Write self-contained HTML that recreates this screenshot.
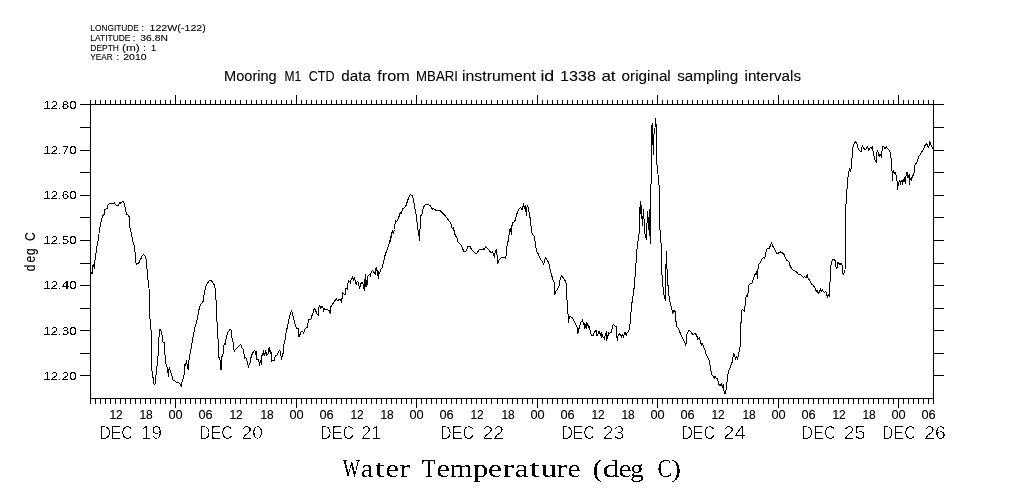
<!DOCTYPE html>
<html><head><meta charset="utf-8">
<style>
html,body{margin:0;padding:0;background:#fff;}
body{width:1009px;height:504px;overflow:hidden;}
svg{display:block;}
text{fill:#000;}
.s{font-family:"Liberation Sans",sans-serif;}
.r{font-family:"Liberation Serif",serif;}
.yt{font-size:15px;}

</style></head>
<body>
<svg width="1009" height="504" viewBox="0 0 1009 504">
<defs><filter id="f9_3" x="0" y="0" width="1009" height="504" filterUnits="userSpaceOnUse"><feComponentTransfer><feFuncA type="gamma" amplitude="1" exponent="0.8" offset="0"/></feComponentTransfer></filter><filter id="f13_8" x="0" y="0" width="1009" height="504" filterUnits="userSpaceOnUse"><feComponentTransfer><feFuncA type="gamma" amplitude="1" exponent="0.85" offset="0"/></feComponentTransfer></filter><filter id="f11_5" x="0" y="0" width="1009" height="504" filterUnits="userSpaceOnUse"><feComponentTransfer><feFuncA type="discrete" tableValues="0 1"/></feComponentTransfer></filter><filter id="f12_4" x="0" y="0" width="1009" height="504" filterUnits="userSpaceOnUse"><feComponentTransfer><feFuncA type="gamma" amplitude="1" exponent="0.75" offset="0"/></feComponentTransfer></filter><filter id="f17_5" x="0" y="0" width="1009" height="504" filterUnits="userSpaceOnUse"><feComponentTransfer><feFuncA type="discrete" tableValues="0 0 0 1"/></feComponentTransfer></filter><filter id="f25_5" x="0" y="0" width="1009" height="504" filterUnits="userSpaceOnUse"><feComponentTransfer><feFuncA type="discrete" tableValues="0 1"/></feComponentTransfer></filter><filter id="fyt" x="0" y="0" width="1009" height="504" filterUnits="userSpaceOnUse"><feComponentTransfer><feFuncA type="gamma" amplitude="1" exponent="0.75" offset="0"/></feComponentTransfer></filter></defs>
<rect width="1009" height="504" fill="#fff"/>
<g stroke="#000" stroke-width="1" fill="none" shape-rendering="crispEdges">
<path d="M80 104.5H944M90 398.5H934M90.5 104V399M933.5 104V399M80 127.5H90M934 127.5H944M80 150.5H90M934 150.5H944M80 172.5H90M934 172.5H944M80 195.5H90M934 195.5H944M80 217.5H90M934 217.5H944M80 240.5H90M934 240.5H944M80 263.5H90M934 263.5H944M80 285.5H90M934 285.5H944M80 308.5H90M934 308.5H944M80 330.5H90M934 330.5H944M80 353.5H90M934 353.5H944M80 375.5H90M934 375.5H944M90.5 399V404M90.5 100V104M95.5 399V404M95.5 100V104M100.5 399V404M100.5 100V104M105.5 399V404M105.5 100V104M110.5 399V404M110.5 100V104M115.5 399V404M115.5 100V104M120.5 399V404M120.5 100V104M125.5 399V404M125.5 100V104M130.5 399V404M130.5 100V104M135.5 399V404M135.5 100V104M140.5 399V404M140.5 100V104M145.5 399V404M145.5 100V104M150.5 399V404M150.5 100V104M155.5 399V404M155.5 100V104M160.5 399V404M160.5 100V104M165.5 399V404M165.5 100V104M170.5 399V404M170.5 100V104M175.5 399V408M175.5 95V104M180.5 399V404M180.5 100V104M185.5 399V404M185.5 100V104M190.5 399V404M190.5 100V104M195.5 399V404M195.5 100V104M200.5 399V404M200.5 100V104M205.5 399V404M205.5 100V104M210.5 399V404M210.5 100V104M215.5 399V404M215.5 100V104M220.5 399V404M220.5 100V104M225.5 399V404M225.5 100V104M230.5 399V404M230.5 100V104M235.5 399V404M235.5 100V104M240.5 399V404M240.5 100V104M246.5 399V404M246.5 100V104M251.5 399V404M251.5 100V104M256.5 399V404M256.5 100V104M261.5 399V404M261.5 100V104M266.5 399V404M266.5 100V104M271.5 399V404M271.5 100V104M276.5 399V404M276.5 100V104M281.5 399V404M281.5 100V104M286.5 399V404M286.5 100V104M291.5 399V404M291.5 100V104M296.5 399V408M296.5 95V104M301.5 399V404M301.5 100V104M306.5 399V404M306.5 100V104M311.5 399V404M311.5 100V104M316.5 399V404M316.5 100V104M321.5 399V404M321.5 100V104M326.5 399V404M326.5 100V104M331.5 399V404M331.5 100V104M336.5 399V404M336.5 100V104M341.5 399V404M341.5 100V104M346.5 399V404M346.5 100V104M351.5 399V404M351.5 100V104M356.5 399V404M356.5 100V104M361.5 399V404M361.5 100V104M366.5 399V404M366.5 100V104M371.5 399V404M371.5 100V104M376.5 399V404M376.5 100V104M381.5 399V404M381.5 100V104M386.5 399V404M386.5 100V104M391.5 399V404M391.5 100V104M396.5 399V404M396.5 100V104M401.5 399V404M401.5 100V104M406.5 399V404M406.5 100V104M411.5 399V404M411.5 100V104M416.5 399V408M416.5 95V104M421.5 399V404M421.5 100V104M426.5 399V404M426.5 100V104M431.5 399V404M431.5 100V104M436.5 399V404M436.5 100V104M441.5 399V404M441.5 100V104M446.5 399V404M446.5 100V104M451.5 399V404M451.5 100V104M456.5 399V404M456.5 100V104M461.5 399V404M461.5 100V104M466.5 399V404M466.5 100V104M471.5 399V404M471.5 100V104M476.5 399V404M476.5 100V104M481.5 399V404M481.5 100V104M486.5 399V404M486.5 100V104M491.5 399V404M491.5 100V104M497.5 399V404M497.5 100V104M502.5 399V404M502.5 100V104M507.5 399V404M507.5 100V104M512.5 399V404M512.5 100V104M517.5 399V404M517.5 100V104M522.5 399V404M522.5 100V104M527.5 399V404M527.5 100V104M532.5 399V404M532.5 100V104M537.5 399V408M537.5 95V104M542.5 399V404M542.5 100V104M547.5 399V404M547.5 100V104M552.5 399V404M552.5 100V104M557.5 399V404M557.5 100V104M562.5 399V404M562.5 100V104M567.5 399V404M567.5 100V104M572.5 399V404M572.5 100V104M577.5 399V404M577.5 100V104M582.5 399V404M582.5 100V104M587.5 399V404M587.5 100V104M592.5 399V404M592.5 100V104M597.5 399V404M597.5 100V104M602.5 399V404M602.5 100V104M607.5 399V404M607.5 100V104M612.5 399V404M612.5 100V104M617.5 399V404M617.5 100V104M622.5 399V404M622.5 100V104M627.5 399V404M627.5 100V104M632.5 399V404M632.5 100V104M637.5 399V404M637.5 100V104M642.5 399V404M642.5 100V104M647.5 399V404M647.5 100V104M652.5 399V404M652.5 100V104M657.5 399V408M657.5 95V104M662.5 399V404M662.5 100V104M667.5 399V404M667.5 100V104M672.5 399V404M672.5 100V104M677.5 399V404M677.5 100V104M682.5 399V404M682.5 100V104M687.5 399V404M687.5 100V104M692.5 399V404M692.5 100V104M697.5 399V404M697.5 100V104M702.5 399V404M702.5 100V104M707.5 399V404M707.5 100V104M712.5 399V404M712.5 100V104M717.5 399V404M717.5 100V104M722.5 399V404M722.5 100V104M727.5 399V404M727.5 100V104M732.5 399V404M732.5 100V104M737.5 399V404M737.5 100V104M742.5 399V404M742.5 100V104M748.5 399V404M748.5 100V104M753.5 399V404M753.5 100V104M758.5 399V404M758.5 100V104M763.5 399V404M763.5 100V104M768.5 399V404M768.5 100V104M773.5 399V404M773.5 100V104M778.5 399V408M778.5 95V104M783.5 399V404M783.5 100V104M788.5 399V404M788.5 100V104M793.5 399V404M793.5 100V104M798.5 399V404M798.5 100V104M803.5 399V404M803.5 100V104M808.5 399V404M808.5 100V104M813.5 399V404M813.5 100V104M818.5 399V404M818.5 100V104M823.5 399V404M823.5 100V104M828.5 399V404M828.5 100V104M833.5 399V404M833.5 100V104M838.5 399V404M838.5 100V104M843.5 399V404M843.5 100V104M848.5 399V404M848.5 100V104M853.5 399V404M853.5 100V104M858.5 399V404M858.5 100V104M863.5 399V404M863.5 100V104M868.5 399V404M868.5 100V104M873.5 399V404M873.5 100V104M878.5 399V404M878.5 100V104M883.5 399V404M883.5 100V104M888.5 399V404M888.5 100V104M893.5 399V404M893.5 100V104M898.5 399V408M898.5 95V104M903.5 399V404M903.5 100V104M908.5 399V404M908.5 100V104M913.5 399V404M913.5 100V104M918.5 399V404M918.5 100V104M923.5 399V404M923.5 100V104M928.5 399V404M928.5 100V104M933.5 399V404M933.5 100V104"/>
<polyline stroke-linejoin="round" points="90.6,272.5 92.2,273.4 92.6,265.8 93.6,265.0 94.4,268.4 94.7,262.5 96.1,252.3 97.3,243.9 98.5,239.7 99.5,227.9 100.5,226.0 100.5,223.4 101.4,220.4 102.3,216.5 103.1,215.3 104.3,214.5 104.3,210.3 105.5,209.1 107.3,208.2 107.3,206.4 108.5,204.3 110.3,203.4 114.2,203.1 114.5,202.3 115.0,203.7 116.5,205.5 118.6,205.5 119.5,202.5 119.8,203.7 121.0,202.5 122.5,201.4 123.4,201.7 124.0,203.1 124.6,203.7 124.9,206.7 125.5,207.3 125.5,211.5 126.4,212.7 126.4,215.0 127.0,213.9 128.4,215.3 129.3,217.1 129.6,226.0 131.5,233.8 132.7,240.5 134.4,246.4 135.1,252.8 135.7,262.5 136.8,264.3 138.2,263.2 139.6,261.8 140.3,258.3 140.9,259.7 141.6,256.9 143.4,254.2 145.1,256.3 146.2,259.7 147.2,270.8 147.9,279.2 149.0,288.2 149.6,315.0 150.6,324.5 151.3,334.0 151.7,369.0 152.9,376.9 154.2,384.8 155.3,383.3 156.1,373.7 157.4,362.6 158.5,350.7 159.3,329.3 160.9,330.1 162.1,335.6 162.8,342.0 164.4,342.8 165.3,361.0 166.4,365.8 167.2,367.4 168.5,376.1 169.1,367.4 170.4,370.6 172.0,376.1 173.3,380.9 175.2,380.9 176.7,382.5 178.3,382.5 179.9,384.0 181.5,386.4 182.3,380.1 183.9,377.7 184.4,364.2 185.5,365.0 186.6,361.0 187.5,367.4 188.7,369.8 189.1,357.9 191.0,349.1 192.6,338.8 194.5,329.3 195.8,324.5 197.1,320.0 199.2,308.5 200.8,304.4 202.9,302.3 204.4,292.9 205.8,286.7 207.1,283.5 209.6,280.4 211.3,280.4 213.3,283.5 214.8,285.6 215.8,295.0 216.9,320.0 217.9,336.7 219.0,357.5 220.0,359.6 221.0,370.0 221.7,357.5 223.1,353.3 224.2,342.9 225.2,345.0 226.3,336.7 227.9,332.5 230.0,329.4 231.5,330.4 232.1,338.8 232.9,340.8 234.2,351.3 235.6,349.2 237.7,347.1 239.8,345.0 240.8,344.0 241.9,348.1 243.3,349.2 244.3,355.5 244.6,359.0 245.5,357.3 246.4,358.5 246.7,360.8 247.6,361.4 247.9,364.4 248.5,367.4 248.8,365.6 249.7,363.5 250.3,362.6 250.5,358.2 251.4,357.0 251.7,355.2 252.6,353.4 253.5,351.6 254.6,350.4 255.3,351.9 255.8,354.3 256.5,351.3 256.6,359.0 257.7,359.9 258.4,359.6 258.9,361.4 259.6,365.6 260.1,362.0 261.0,360.5 261.3,364.4 261.7,355.5 262.8,355.2 263.3,350.4 263.6,354.6 264.5,354.0 264.8,355.5 265.4,350.4 266.1,351.9 266.6,355.8 267.5,354.3 268.1,354.0 268.5,348.9 269.3,347.4 269.9,350.1 270.2,353.7 270.7,350.7 271.4,354.3 271.5,361.4 272.5,360.5 274.4,360.5 274.7,358.2 275.5,355.8 276.4,355.5 277.6,354.3 278.5,351.9 279.4,350.4 280.3,351.6 280.6,355.5 281.2,356.4 281.5,359.6 282.1,356.4 282.7,353.7 283.6,352.8 283.8,344.2 284.8,343.0 285.0,340.0 285.2,336.5 286.4,331.3 287.4,326.8 288.5,321.6 289.3,317.1 290.4,314.1 291.4,310.7 292.3,312.6 293.4,317.9 294.9,323.8 296.3,327.5 297.4,329.0 298.4,328.8 298.9,337.0 300.2,334.0 301.5,331.4 302.8,331.9 303.7,333.2 304.6,329.7 306.3,327.9 307.4,327.1 307.8,326.6 308.3,319.2 309.8,319.6 311.1,319.2 311.8,315.7 312.8,314.8 313.5,310.0 314.6,308.7 315.5,310.5 316.5,312.7 317.4,314.4 318.3,315.3 318.8,307.4 319.8,305.7 320.5,306.5 320.9,308.3 322.0,306.5 322.9,307.8 323.5,311.3 324.2,308.7 325.2,309.6 326.8,309.6 328.1,310.0 329.3,310.5 330.1,313.3 330.8,307.0 332.1,304.8 333.8,302.2 335.1,300.4 336.4,298.4 337.3,300.9 338.6,300.0 339.9,299.6 340.8,300.0 341.5,302.2 342.1,297.8 342.5,294.1 342.6,292.8 345.2,295.0 345.2,288.2 346.2,288.8 347.7,289.5 347.7,284.9 348.4,280.3 349.2,281.0 349.8,281.6 350.3,283.3 350.8,280.3 351.6,279.7 352.4,276.1 353.0,278.4 353.4,281.0 354.1,277.7 354.7,277.7 355.4,282.3 356.4,284.3 357.1,281.6 358.2,282.3 358.7,283.6 359.3,288.2 360.0,286.9 360.6,283.6 362.3,282.3 363.0,283.6 363.6,287.5 364.3,290.8 364.7,288.2 365.2,274.4 365.7,281.0 366.0,286.9 366.5,280.3 367.0,284.9 367.5,277.7 368.1,275.7 369.1,275.1 369.8,274.4 370.4,276.4 371.1,272.5 372.4,270.2 373.4,271.5 374.4,273.1 375.3,274.4 375.7,268.5 376.3,267.2 377.0,270.5 377.4,275.1 378.0,270.5 378.5,278.4 378.9,274.4 379.6,273.1 380.6,270.5 381.2,268.5 381.9,268.2 382.5,265.3 383.2,263.3 383.7,262.0 384.9,255.8 386.0,252.6 387.3,249.4 388.3,246.1 389.6,242.9 390.5,236.5 390.6,241.1 391.3,235.3 392.3,230.8 393.2,233.4 394.5,229.5 395.4,220.5 396.5,221.8 397.5,219.8 398.8,217.3 400.1,212.7 401.4,214.0 402.6,208.9 404.2,207.6 406.1,205.6 407.4,201.1 408.7,197.9 410.0,194.7 411.3,195.1 412.6,196.0 413.5,200.5 414.5,206.3 415.8,212.1 416.8,219.8 417.7,228.9 418.6,231.5 419.4,240.5 419.9,231.5 420.7,216.0 422.0,214.0 422.9,208.9 423.8,206.9 425.1,205.0 426.8,204.4 428.7,205.0 430.0,205.0 431.0,206.9 432.3,209.5 433.2,208.2 434.5,209.3 435.8,210.2 437.7,210.8 439.7,210.2 441.0,211.5 442.9,213.4 444.8,215.3 446.8,217.9 448.7,220.5 449.9,221.5 451.3,224.3 452.2,228.5 453.3,227.8 454.4,231.9 455.4,236.1 456.8,237.5 457.8,241.7 458.9,243.1 461.0,245.1 462.4,247.9 463.8,251.4 465.1,252.1 466.5,250.0 467.9,246.5 470.0,246.5 471.4,249.3 472.8,250.7 474.4,252.8 476.3,253.5 477.6,252.1 479.0,250.0 480.4,249.3 481.8,250.0 483.2,248.6 484.2,250.0 485.6,246.9 486.7,247.9 488.1,249.3 489.4,250.7 490.8,252.5 492.2,251.7 493.6,253.5 494.4,257.6 495.3,251.4 496.7,249.3 497.5,263.9 498.5,261.1 499.9,259.0 501.9,257.6 503.5,257.5 505.3,258.2 506.7,253.3 507.2,242.2 508.3,241.5 509.4,231.1 510.4,228.3 511.4,234.6 512.2,222.8 513.9,222.1 515.3,220.0 516.4,215.1 517.8,211.7 519.4,208.2 520.8,207.5 521.9,210.0 522.9,206.8 523.3,203.3 524.3,208.2 525.3,205.8 526.4,215.6 527.1,205.4 527.8,206.1 528.5,209.6 529.4,213.8 530.3,219.3 531.3,228.3 532.2,233.9 533.1,235.3 534.4,236.7 535.4,243.6 536.4,250.6 537.5,252.6 538.9,255.4 540.3,258.9 541.8,260.7 543.6,264.3 545.4,257.5 547.1,259.8 548.6,262.5 549.8,267.9 551.6,275.0 553.4,281.3 554.6,283.0 554.6,294.6 556.1,291.1 557.9,288.4 558.8,287.5 559.6,281.3 561.4,275.9 563.2,277.7 565.0,280.4 566.4,283.9 567.1,301.8 568.2,316.1 568.6,322.3 569.5,316.1 571.3,317.0 572.5,317.9 573.9,320.5 575.7,324.1 577.5,328.6 578.0,333.5 578.6,330.5 579.5,326.3 580.4,324.5 581.3,321.0 581.9,322.1 582.5,319.2 583.1,322.1 583.7,324.5 584.0,322.7 584.4,328.7 585.0,325.1 585.6,327.5 586.3,322.1 586.8,328.7 587.2,323.3 587.8,325.1 588.4,327.5 589.0,325.4 589.3,329.3 590.2,330.5 590.8,334.0 591.7,335.5 593.2,335.5 593.8,333.2 594.7,331.1 595.7,330.8 596.5,334.6 596.8,330.5 597.0,336.1 597.9,334.6 598.5,332.3 599.1,331.4 599.7,333.2 600.5,335.5 601.2,332.3 601.8,337.6 602.4,334.6 603.0,336.7 603.6,337.9 604.2,336.4 604.5,339.4 605.3,333.5 605.7,334.6 606.5,331.1 606.6,340.6 607.2,335.2 607.8,338.2 608.4,332.9 609.3,333.5 610.1,332.6 611.3,332.3 611.9,329.9 612.5,326.3 613.4,324.2 614.3,325.4 615.2,326.0 616.7,326.3 616.7,335.8 617.4,340.6 617.9,336.4 618.8,334.0 619.5,333.5 620.3,335.2 621.0,334.6 621.6,337.9 622.3,334.6 623.1,335.2 623.5,337.3 624.4,332.6 625.3,332.9 626.2,335.2 626.8,332.9 628.0,332.0 628.5,331.0 629.6,328.4 630.5,318.7 631.4,307.7 632.4,299.4 633.5,292.9 634.4,285.2 636.0,263.4 636.9,249.5 637.9,241.6 638.9,237.6 639.5,217.8 640.3,201.9 640.9,213.8 641.5,205.9 642.3,225.7 643.5,209.8 644.9,233.7 646.3,239.6 647.5,211.8 648.3,229.7 649.4,209.8 650.2,243.6 650.8,215.8 651.4,127.9 652.3,123.4 652.9,138.6 653.2,154.6 654.1,131.4 655.0,127.9 655.5,118.9 656.4,127.9 656.8,145.7 657.1,172.5 658.0,174.3 658.6,185.0 659.5,185.0 659.8,205.9 659.4,227.7 660.8,233.7 661.7,273.3 662.1,276.0 663.6,293.9 665.4,300.2 665.7,277.9 666.3,251.5 666.8,260.0 667.1,272.5 668.6,293.9 669.8,301.1 671.1,306.4 672.1,310.0 672.9,313.6 673.9,310.0 675.2,311.8 676.4,326.1 677.9,327.9 679.6,331.4 681.4,335.9 683.2,339.5 684.6,342.1 685.9,345.7 686.8,334.1 688.6,330.5 690.7,331.4 693.0,335.0 694.8,333.2 696.6,335.0 697.9,339.5 699.3,337.7 700.7,342.1 701.5,345.8 702.7,343.6 703.7,347.3 705.2,350.3 706.3,354.8 707.7,357.7 709.2,360.0 710.4,366.7 711.6,374.9 713.1,376.3 714.1,378.6 714.9,376.3 716.4,378.6 717.6,378.6 718.6,383.8 720.1,386.0 721.6,383.8 722.3,387.5 723.1,384.5 723.8,390.5 725.0,394.2 726.0,390.5 727.1,381.5 728.3,371.1 729.8,368.2 731.3,364.4 732.4,361.5 733.5,353.3 734.5,354.8 735.4,359.2 736.5,357.0 737.5,359.2 738.4,354.8 739.4,349.6 740.2,346.6 740.5,335.4 740.9,326.5 741.4,310.5 742.7,309.5 744.6,311.4 745.5,299.2 746.5,295.4 747.8,296.3 748.4,285.9 749.7,284.1 752.2,283.1 753.5,278.4 755.0,274.6 756.9,271.8 757.2,278.4 758.4,265.2 759.7,263.3 761.6,259.5 763.5,257.6 764.8,258.6 765.9,252.0 767.2,248.2 769.1,249.2 770.1,246.3 771.6,242.9 772.9,246.3 774.8,249.2 776.7,253.9 778.6,252.9 780.5,252.0 782.3,252.9 784.2,254.8 785.5,258.6 787.0,260.5 788.9,261.4 789.9,265.2 791.2,268.0 793.1,269.9 794.6,270.8 796.2,271.4 797.4,273.2 798.6,275.0 799.8,274.4 801.0,275.0 802.1,276.2 803.3,277.4 804.5,276.8 805.7,278.0 806.9,275.6 807.5,275.0 808.1,278.6 809.3,279.8 810.5,282.1 811.7,284.5 812.9,285.1 814.0,286.3 815.2,288.1 816.2,291.1 817.0,290.5 818.2,293.5 819.4,292.3 820.6,288.7 821.4,291.1 822.4,289.9 823.6,291.7 824.8,292.3 825.7,291.7 826.5,293.5 827.4,297.6 828.1,294.6 828.9,295.2 829.8,296.4 830.2,269.0 831.3,263.1 832.5,259.3 834.0,259.3 835.2,260.7 835.7,265.5 836.4,269.0 837.3,267.3 837.9,262.5 838.8,263.1 840.0,264.9 840.8,263.1 842.0,264.3 842.6,273.8 843.6,274.4 844.4,271.4 845.0,270.2 845.6,230.0 846.0,204.0 847.6,180.3 848.6,172.6 849.5,168.7 850.2,171.9 851.2,168.0 851.7,163.5 852.5,148.7 853.8,144.8 855.1,142.2 856.0,141.6 856.9,143.5 857.9,148.1 859.2,150.0 861.1,151.9 862.4,145.5 863.7,148.1 865.0,149.3 866.3,148.7 867.6,146.8 868.9,150.6 870.1,147.4 871.4,148.1 872.3,146.8 873.4,153.2 874.7,159.0 876.2,162.2 877.2,150.0 878.3,152.6 879.2,156.4 880.1,153.9 881.4,157.1 882.4,146.8 883.7,146.8 885.0,149.3 886.3,146.8 887.6,148.7 889.5,150.6 890.4,152.6 891.2,159.0 891.6,160.0 891.6,170.4 892.3,171.1 892.5,180.5 893.0,171.1 893.7,170.4 894.2,173.9 894.7,172.8 895.4,172.2 895.8,174.6 896.5,175.3 896.7,180.8 897.5,181.5 897.5,189.5 898.1,183.6 898.5,185.7 899.2,180.8 899.9,180.1 900.4,184.3 901.3,181.5 902.0,180.1 902.5,184.3 903.2,180.8 903.9,179.4 904.4,177.4 905.3,183.6 905.7,178.1 906.4,173.9 907.1,172.2 907.6,177.4 908.6,177.4 909.3,174.2 909.5,184.3 910.0,180.1 910.6,178.8 911.3,180.1 911.7,178.1 912.8,176.0 914.2,172.8 914.5,165.6 915.6,164.2 916.6,162.4 917.6,160.7 918.5,157.1 919.8,155.1 921.1,152.6 922.4,151.3 923.7,148.7 924.7,145.5 926.0,144.8 926.9,143.5 927.8,146.1 928.8,147.4 929.8,141.6 930.8,144.2 931.7,146.8 932.7,148.1 933.5,149.3"/>
</g>
<g filter="url(#fyt)"><text class="s yt" transform="translate(35,270.4) rotate(-90) scale(0.8,1)"><tspan x="-1.000" y="0">d</tspan><tspan x="9.750" y="0">e</tspan><tspan x="19.250" y="0">g</tspan> <tspan x="36.875" y="0">C</tspan></text></g>
<g filter="url(#f9_3)"><text class="s" font-size="9.3"><tspan x="90.30" y="31.00" textLength="48.56" lengthAdjust="spacingAndGlyphs">LONGITUDE</tspan> <tspan x="141.60" y="31.00">:</tspan> <tspan x="149.50" y="31.00" textLength="56.33" lengthAdjust="spacingAndGlyphs">122W(-122)</tspan></text>
<text class="s" font-size="9.3"><tspan x="90.30" y="41.00" textLength="40.17" lengthAdjust="spacingAndGlyphs">LATITUDE</tspan> <tspan x="132.80" y="41.00">:</tspan> <tspan x="140.30" y="41.00" textLength="27.60" lengthAdjust="spacingAndGlyphs">36.8N</tspan></text>
<text class="s" font-size="9.3"><tspan x="90.30" y="51.00" textLength="28.60" lengthAdjust="spacingAndGlyphs">DEPTH</tspan> <tspan x="122.00" y="51.00" textLength="17.79" lengthAdjust="spacingAndGlyphs">(m)</tspan> <tspan x="143.20" y="51.00">:</tspan> <tspan x="150.90" y="51.00">1</tspan></text>
<text class="s" font-size="9.3"><tspan x="90.30" y="60.00" textLength="22.31" lengthAdjust="spacingAndGlyphs">YEAR</tspan> <tspan x="116.40" y="60.00">:</tspan> <tspan x="123.20" y="60.00" textLength="23.50" lengthAdjust="spacingAndGlyphs">2010</tspan></text></g>
<g filter="url(#f13_8)"><text class="s" font-size="13.8"><tspan x="224.10" y="81.00" textLength="52.58" lengthAdjust="spacingAndGlyphs">Mooring</tspan> <tspan x="284.40" y="81.00" textLength="16.68" lengthAdjust="spacingAndGlyphs">M1</tspan> <tspan x="308.65" y="81.00" textLength="25.84" lengthAdjust="spacingAndGlyphs">CTD</tspan> <tspan x="341.30" y="81.00" textLength="29.57" lengthAdjust="spacingAndGlyphs">data</tspan> <tspan x="377.30" y="81.00" textLength="32.55" lengthAdjust="spacingAndGlyphs">from</tspan> <tspan x="416.10" y="81.00" textLength="41.90" lengthAdjust="spacingAndGlyphs">MBARI</tspan> <tspan x="462.00" y="81.00" textLength="73.97" lengthAdjust="spacingAndGlyphs">instrument</tspan> <tspan x="540.40" y="81.00" textLength="13.88" lengthAdjust="spacingAndGlyphs">id</tspan> <tspan x="559.90" y="81.00" textLength="36.11" lengthAdjust="spacingAndGlyphs">1338</tspan> <tspan x="601.40" y="81.00" textLength="14.23" lengthAdjust="spacingAndGlyphs">at</tspan> <tspan x="621.60" y="81.00" textLength="49.15" lengthAdjust="spacingAndGlyphs">original</tspan> <tspan x="677.20" y="81.00" textLength="60.97" lengthAdjust="spacingAndGlyphs">sampling</tspan> <tspan x="744.60" y="81.00" textLength="56.35" lengthAdjust="spacingAndGlyphs">intervals</tspan></text></g>
<g filter="url(#f11_5)"><text class="s" font-size="11.5"><tspan x="43.20" y="109.00" textLength="33.52" lengthAdjust="spacingAndGlyphs">12.80</tspan></text>
<text class="s" font-size="11.5"><tspan x="43.20" y="154.00" textLength="33.52" lengthAdjust="spacingAndGlyphs">12.70</tspan></text>
<text class="s" font-size="11.5"><tspan x="43.20" y="199.00" textLength="33.52" lengthAdjust="spacingAndGlyphs">12.60</tspan></text>
<text class="s" font-size="11.5"><tspan x="43.20" y="244.00" textLength="33.52" lengthAdjust="spacingAndGlyphs">12.50</tspan></text>
<text class="s" font-size="11.5"><tspan x="43.20" y="289.00" textLength="33.52" lengthAdjust="spacingAndGlyphs">12.40</tspan></text>
<text class="s" font-size="11.5"><tspan x="43.20" y="335.00" textLength="33.52" lengthAdjust="spacingAndGlyphs">12.30</tspan></text>
<text class="s" font-size="11.5"><tspan x="43.20" y="380.00" textLength="33.52" lengthAdjust="spacingAndGlyphs">12.20</tspan></text></g>
<g filter="url(#f12_4)"><text class="s" font-size="12.4"><tspan x="109.40" y="419.00" textLength="13.31" lengthAdjust="spacingAndGlyphs">12</tspan></text>
<text class="s" font-size="12.4"><tspan x="139.40" y="419.00" textLength="13.31" lengthAdjust="spacingAndGlyphs">18</tspan></text>
<text class="s" font-size="12.4"><tspan x="168.40" y="419.00" textLength="14.30" lengthAdjust="spacingAndGlyphs">00</tspan></text>
<text class="s" font-size="12.4"><tspan x="198.40" y="419.00" textLength="14.30" lengthAdjust="spacingAndGlyphs">06</tspan></text>
<text class="s" font-size="12.4"><tspan x="229.40" y="419.00" textLength="13.31" lengthAdjust="spacingAndGlyphs">12</tspan></text>
<text class="s" font-size="12.4"><tspan x="260.40" y="419.00" textLength="13.31" lengthAdjust="spacingAndGlyphs">18</tspan></text>
<text class="s" font-size="12.4"><tspan x="289.40" y="419.00" textLength="14.30" lengthAdjust="spacingAndGlyphs">00</tspan></text>
<text class="s" font-size="12.4"><tspan x="319.40" y="419.00" textLength="14.30" lengthAdjust="spacingAndGlyphs">06</tspan></text>
<text class="s" font-size="12.4"><tspan x="350.40" y="419.00" textLength="13.31" lengthAdjust="spacingAndGlyphs">12</tspan></text>
<text class="s" font-size="12.4"><tspan x="380.40" y="419.00" textLength="13.31" lengthAdjust="spacingAndGlyphs">18</tspan></text>
<text class="s" font-size="12.4"><tspan x="409.40" y="419.00" textLength="14.30" lengthAdjust="spacingAndGlyphs">00</tspan></text>
<text class="s" font-size="12.4"><tspan x="439.40" y="419.00" textLength="14.30" lengthAdjust="spacingAndGlyphs">06</tspan></text>
<text class="s" font-size="12.4"><tspan x="470.40" y="419.00" textLength="13.31" lengthAdjust="spacingAndGlyphs">12</tspan></text>
<text class="s" font-size="12.4"><tspan x="501.40" y="419.00" textLength="13.31" lengthAdjust="spacingAndGlyphs">18</tspan></text>
<text class="s" font-size="12.4"><tspan x="530.40" y="419.00" textLength="14.30" lengthAdjust="spacingAndGlyphs">00</tspan></text>
<text class="s" font-size="12.4"><tspan x="560.40" y="419.00" textLength="14.30" lengthAdjust="spacingAndGlyphs">06</tspan></text>
<text class="s" font-size="12.4"><tspan x="591.40" y="419.00" textLength="13.31" lengthAdjust="spacingAndGlyphs">12</tspan></text>
<text class="s" font-size="12.4"><tspan x="621.40" y="419.00" textLength="13.31" lengthAdjust="spacingAndGlyphs">18</tspan></text>
<text class="s" font-size="12.4"><tspan x="650.40" y="419.00" textLength="14.30" lengthAdjust="spacingAndGlyphs">00</tspan></text>
<text class="s" font-size="12.4"><tspan x="680.40" y="419.00" textLength="14.30" lengthAdjust="spacingAndGlyphs">06</tspan></text>
<text class="s" font-size="12.4"><tspan x="711.40" y="419.00" textLength="13.31" lengthAdjust="spacingAndGlyphs">12</tspan></text>
<text class="s" font-size="12.4"><tspan x="742.40" y="419.00" textLength="13.31" lengthAdjust="spacingAndGlyphs">18</tspan></text>
<text class="s" font-size="12.4"><tspan x="771.40" y="419.00" textLength="14.30" lengthAdjust="spacingAndGlyphs">00</tspan></text>
<text class="s" font-size="12.4"><tspan x="801.40" y="419.00" textLength="14.30" lengthAdjust="spacingAndGlyphs">06</tspan></text>
<text class="s" font-size="12.4"><tspan x="832.40" y="419.00" textLength="13.31" lengthAdjust="spacingAndGlyphs">12</tspan></text>
<text class="s" font-size="12.4"><tspan x="862.40" y="419.00" textLength="13.31" lengthAdjust="spacingAndGlyphs">18</tspan></text>
<text class="s" font-size="12.4"><tspan x="891.40" y="419.00" textLength="14.30" lengthAdjust="spacingAndGlyphs">00</tspan></text>
<text class="s" font-size="12.4"><tspan x="921.40" y="419.00" textLength="14.30" lengthAdjust="spacingAndGlyphs">06</tspan></text></g>
<g filter="url(#f17_5)"><text class="s" font-size="17.5"><tspan x="99.20" y="439.00" textLength="33.70" lengthAdjust="spacingAndGlyphs">DEC</tspan> <tspan x="141.10" y="439.00" textLength="20.92" lengthAdjust="spacingAndGlyphs">19</tspan></text>
<text class="s" font-size="17.5"><tspan x="199.10" y="439.00" textLength="33.78" lengthAdjust="spacingAndGlyphs">DEC</tspan> <tspan x="241.60" y="439.00" textLength="21.37" lengthAdjust="spacingAndGlyphs">20</tspan></text>
<text class="s" font-size="17.5"><tspan x="320.10" y="439.00" textLength="33.96" lengthAdjust="spacingAndGlyphs">DEC</tspan> <tspan x="361.30" y="439.00" textLength="19.70" lengthAdjust="spacingAndGlyphs">21</tspan></text>
<text class="s" font-size="17.5"><tspan x="440.10" y="439.00" textLength="33.96" lengthAdjust="spacingAndGlyphs">DEC</tspan> <tspan x="482.40" y="439.00" textLength="21.52" lengthAdjust="spacingAndGlyphs">22</tspan></text>
<text class="s" font-size="17.5"><tspan x="561.20" y="439.00" textLength="33.70" lengthAdjust="spacingAndGlyphs">DEC</tspan> <tspan x="602.40" y="439.00" textLength="22.26" lengthAdjust="spacingAndGlyphs">23</tspan></text>
<text class="s" font-size="17.5"><tspan x="681.20" y="439.00" textLength="33.75" lengthAdjust="spacingAndGlyphs">DEC</tspan> <tspan x="723.20" y="439.00" textLength="22.51" lengthAdjust="spacingAndGlyphs">24</tspan></text>
<text class="s" font-size="17.5"><tspan x="801.20" y="439.00" textLength="34.52" lengthAdjust="spacingAndGlyphs">DEC</tspan> <tspan x="843.40" y="439.00" textLength="22.26" lengthAdjust="spacingAndGlyphs">25</tspan></text>
<text class="s" font-size="17.5"><tspan x="882.10" y="439.00" textLength="33.64" lengthAdjust="spacingAndGlyphs">DEC</tspan> <tspan x="924.20" y="439.00" textLength="21.52" lengthAdjust="spacingAndGlyphs">26</tspan></text></g>
<g filter="url(#f25_5)"><text class="r" font-size="25.5"><tspan x="342.70" y="477.00" textLength="17.02" lengthAdjust="spacingAndGlyphs">W</tspan><tspan x="360.80" y="477.00" textLength="12.75" lengthAdjust="spacingAndGlyphs">a</tspan><tspan x="375.10" y="477.00" textLength="9.65" lengthAdjust="spacingAndGlyphs">t</tspan><tspan x="385.40" y="477.00" textLength="13.45" lengthAdjust="spacingAndGlyphs">e</tspan><tspan x="399.40" y="477.00" textLength="10.48" lengthAdjust="spacingAndGlyphs">r</tspan> <tspan x="422.00" y="477.00" textLength="13.49" lengthAdjust="spacingAndGlyphs">T</tspan><tspan x="436.50" y="477.00" textLength="13.56" lengthAdjust="spacingAndGlyphs">e</tspan><tspan x="449.70" y="477.00" textLength="22.85" lengthAdjust="spacingAndGlyphs">m</tspan><tspan x="472.90" y="477.00" textLength="15.22" lengthAdjust="spacingAndGlyphs">p</tspan><tspan x="488.00" y="477.00" textLength="14.03" lengthAdjust="spacingAndGlyphs">e</tspan><tspan x="502.70" y="477.00" textLength="11.21" lengthAdjust="spacingAndGlyphs">r</tspan><tspan x="514.70" y="477.00" textLength="13.54" lengthAdjust="spacingAndGlyphs">a</tspan><tspan x="529.40" y="477.00" textLength="10.30" lengthAdjust="spacingAndGlyphs">t</tspan><tspan x="540.70" y="477.00" textLength="16.36" lengthAdjust="spacingAndGlyphs">u</tspan><tspan x="556.40" y="477.00" textLength="10.48" lengthAdjust="spacingAndGlyphs">r</tspan><tspan x="567.60" y="477.00" textLength="13.09" lengthAdjust="spacingAndGlyphs">e</tspan> <tspan x="592.70" y="477.00" textLength="9.51" lengthAdjust="spacingAndGlyphs">(</tspan><tspan x="602.40" y="477.00" textLength="17.37" lengthAdjust="spacingAndGlyphs">d</tspan><tspan x="618.50" y="477.00" textLength="13.09" lengthAdjust="spacingAndGlyphs">e</tspan><tspan x="630.10" y="477.00" textLength="13.79" lengthAdjust="spacingAndGlyphs">g</tspan> <tspan x="657.50" y="477.00" textLength="14.32" lengthAdjust="spacingAndGlyphs">C</tspan><tspan x="671.30" y="477.00" textLength="9.66" lengthAdjust="spacingAndGlyphs">)</tspan></text></g>
</svg>
</body></html>
